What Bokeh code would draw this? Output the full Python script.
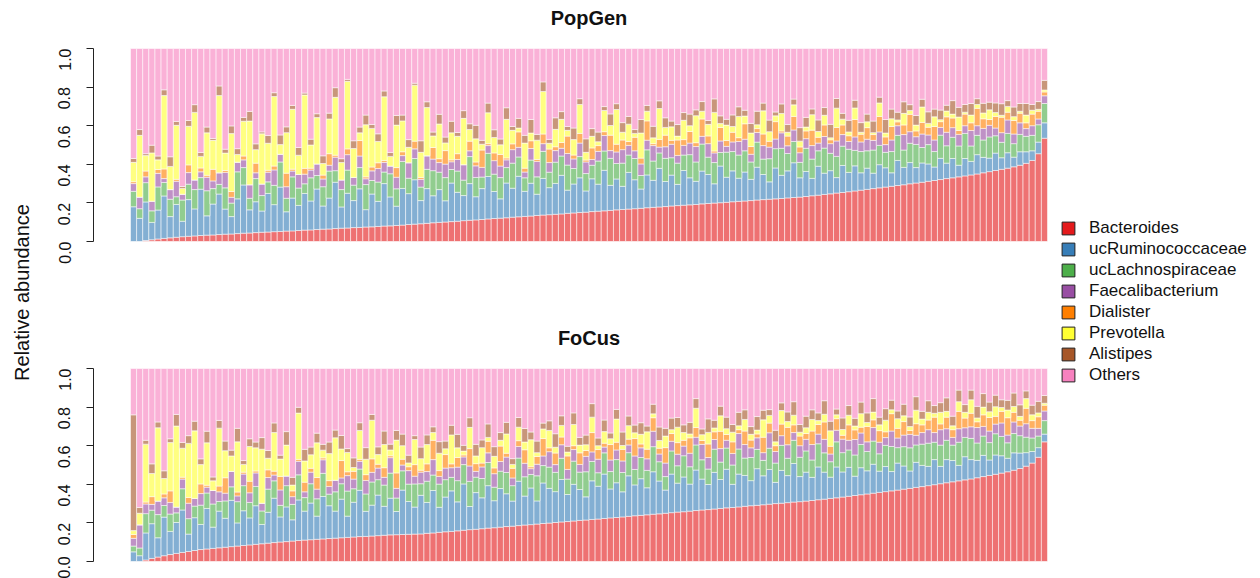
import math
from bokeh.plotting import figure
from bokeh.models import ColumnDataSource, Range1d, FixedTicker, PrintfTickFormatter, Label, Legend, LegendItem
from bokeh.layouts import row, column
from bokeh.embed import file_html
from bokeh.resources import INLINE

taxa = ["Bacteroides", "ucRuminococcaceae", "ucLachnospiraceae", "Faecalibacterium",
        "Dialister", "Prevotella", "Alistipes", "Others"]
colors = ["#E41A1C", "#377EB8", "#4DAF4A", "#984EA3", "#FF7F00", "#FFFF33", "#A65628", "#F781BF"]
y_ticks = [0.0, 0.2, 0.4, 0.6, 0.8, 1.0]

# ---------------- PopGen (percent per sample, sorted by Bacteroides) ----------------
popgen_bacteroides = [
    0, 0, 0.5, 0.9, 1.3, 1.6, 1.9, 2.2, 2.5, 2.7, 2.9, 3.1,
    3.3, 3.4, 3.6, 3.8, 3.9, 4.1, 4.3, 4.4, 4.6, 4.8, 4.9, 5.1, 5.2, 5.4, 5.5, 5.7,
    5.9, 6.0, 6.2, 6.4, 6.5, 6.7, 6.9, 7.0, 7.2, 7.3, 7.5, 7.6, 7.8, 8.0, 8.1, 8.3,
    8.5, 8.8, 9.0, 9.2, 9.4, 9.7, 9.9, 10.1, 10.3, 10.5, 10.8, 11.0, 11.2, 11.4, 11.7, 11.9,
    12.1, 12.3, 12.6, 12.8, 13.0, 13.2, 13.5, 13.7, 13.9, 14.1, 14.3, 14.6, 14.8, 15.0, 15.2, 15.5, 15.7,
    15.9, 16.1, 16.4, 16.6, 16.8, 17.0, 17.2, 17.5, 17.7, 17.9, 18.1, 18.4, 18.6, 18.8, 19.0, 19.2,
    19.5, 19.7, 19.9, 20.1, 20.3, 20.6, 20.8, 21.0, 21.2, 21.5, 21.7, 21.9, 22.1, 22.3, 22.6, 22.8, 23.0,
    23.3, 23.7, 24.0, 24.4, 24.7, 25.1, 25.4, 25.8, 26.2, 26.6, 27.0, 27.4, 27.8, 28.2, 28.6, 29.0,
    29.4, 29.9, 30.3, 30.7, 31.2, 31.6, 32.1, 32.6, 33.0, 33.5, 34.0, 34.5, 35.0, 35.6, 36.2, 36.8, 37.4,
    38.0, 38.7, 39.5, 40.5, 42.0, 45.5, 53.5]
popgen_rumino = [
    18, 12, 20, 9, 15, 22, 11, 17, 8, 19, 14, 24, 10, 16, 21, 13, 9, 18, 25, 12,
    16, 11, 20, 14, 23, 10, 17, 13, 19, 15, 21, 12, 16, 24, 11, 18, 14, 20, 9, 17,
    13, 22, 15, 10, 19, 16, 23, 12, 18, 14, 17, 11, 20, 15, 13, 19, 12, 16, 22, 14,
    10, 18, 15, 21, 13, 17, 11, 19, 14, 16, 20, 12, 15, 18, 11, 17, 14, 21, 13, 16,
    12, 19, 15, 10, 17, 14, 20, 13, 16, 11, 18, 14, 12, 17, 15, 10, 19, 13, 16, 12,
    15, 11, 17, 13, 9, 16, 12, 14, 18, 10, 13, 9, 15, 11, 12, 8, 14, 10, 13, 9,
    11, 8, 12, 10, 7, 13, 9, 11, 8, 10, 9, 7, 11, 8, 10, 6, 9, 7, 10, 8,
    7, 9, 6, 8, 5, 7, 6, 5, 6, 8]
popgen_lachno = [
    8, 5, 10, 6, 12, 7, 9, 4, 11, 8, 10, 6, 13, 8, 5, 11, 7, 14, 9, 6,
    12, 8, 6, 10, 13, 7, 11, 9, 5, 12, 7, 10, 14, 6, 9, 12, 8, 11, 13, 7,
    10, 6, 12, 9, 14, 8, 11, 7, 10, 13, 9, 12, 7, 11, 8, 14, 10, 6, 12, 9,
    11, 8, 13, 10, 7, 12, 9, 14, 8, 11, 10, 13, 8, 11, 9, 7, 12, 10, 14, 8,
    12, 9, 11, 7, 13, 10, 8, 12, 9, 11, 8, 12, 10, 14, 9, 11, 7, 13, 10, 12,
    11, 9, 13, 8, 12, 10, 14, 9, 11, 8, 12, 10, 8, 13, 9, 11, 10, 12, 8, 11,
    9, 12, 10, 8, 11, 13, 9, 10, 12, 8, 10, 8, 12, 9, 11, 10, 13, 8, 10, 9,
    11, 9, 8, 10, 7, 9, 8, 8, 9, 10]
popgen_faecali = [
    4, 6, 3, 5, 7, 2, 5, 8, 3, 6, 5, 3, 7, 4, 6, 8, 3, 5, 4, 7,
    3, 6, 5, 8, 4, 6, 3, 7, 5, 4, 6, 4, 3, 7, 5, 8, 4, 6, 3, 5,
    7, 5, 4, 6, 3, 8, 5, 4, 7, 6, 5, 7, 4, 6, 8, 3, 6, 5, 4, 7,
    6, 4, 7, 5, 3, 6, 8, 4, 5, 6, 4, 6, 5, 7, 6, 3, 5, 8, 4, 6,
    7, 5, 4, 6, 5, 8, 3, 6, 7, 4, 5, 6, 8, 4, 7, 5, 6, 3, 5, 7,
    6, 4, 5, 7, 6, 5, 8, 4, 6, 5, 5, 7, 4, 6, 5, 8, 6, 4, 7, 5,
    6, 5, 7, 4, 6, 5, 8, 6, 4, 7, 5, 6, 4, 7, 5, 6, 4, 8, 5, 6,
    6, 4, 5, 7, 5, 6, 4, 5, 3, 4]
popgen_dialister = [
    1, 0, 3, 0, 2, 5, 0, 1, 0, 4, 0, 2, 1, 6, 0, 1, 3, 0, 2, 0,
    5, 0, 1, 2, 0, 7, 1, 0, 3, 1, 0, 2, 6, 1, 0, 3, 0, 8, 1, 2,
    3, 1, 0, 5, 2, 0, 4, 1, 0, 6, 2, 7, 1, 3, 0, 5, 2, 9, 1, 4,
    6, 1, 3, 8, 2, 4, 1, 5, 7, 2, 3, 9, 2, 5, 1, 6, 3, 2, 8, 4,
    5, 2, 7, 3, 10, 1, 4, 6, 2, 8, 3, 6, 2, 9, 4, 1, 7, 3, 5, 2,
    8, 4, 2, 6, 3, 9, 1, 5, 7, 3, 4, 8, 3, 6, 2, 7, 5, 3, 9, 4,
    6, 3, 8, 4, 7, 2, 5, 9, 3, 6, 4, 7, 3, 8, 5, 2, 6, 4, 9, 5,
    3, 6, 8, 4, 7, 5, 3, 6, 4, 2]
popgen_prevotella = [
    10, 32, 8, 25, 5, 38, 12, 28, 3, 20, 35, 6, 22, 15, 40, 9, 30, 4, 18, 33,
    7, 26, 14, 36, 5, 21, 31, 10, 38, 12, 24, 6, 18, 30, 9, 35, 15, 4, 27, 20,
    11, 33, 5, 22, 16, 8, 29, 13, 25, 6, 18, 4, 14, 9, 24, 6, 12, 3, 16, 8,
    5, 20, 7, 2, 13, 4, 10, 22, 3, 9, 12, 3, 8, 15, 4, 6, 2, 11, 5, 18,
    4, 9, 2, 13, 5, 3, 16, 4, 7, 2, 10, 3, 14, 4, 6, 20, 2, 8, 3, 11,
    4, 7, 2, 12, 5, 3, 9, 2, 6, 3, 2, 8, 3, 5, 1, 10, 3, 2, 6, 1,
    3, 1, 7, 2, 4, 1, 6, 2, 3, 8, 2, 5, 1, 3, 2, 7, 1, 4, 2, 3,
    5, 2, 1, 3, 2, 1, 4, 2, 1, 1]
popgen_alistipes = [
    2, 3, 1, 4, 2, 3, 5, 2, 1, 3, 4, 2, 3, 1, 5, 2, 4, 3, 2, 5,
    3, 1, 4, 2, 5, 3, 2, 4, 1, 3, 2, 4, 3, 5, 2, 1, 4, 3, 5, 2,
    4, 3, 2, 5, 3, 4, 1, 6, 3, 2, 5, 3, 6, 2, 4, 3, 7, 2, 5, 4,
    3, 6, 2, 5, 4, 7, 3, 5, 2, 6, 4, 2, 6, 3, 7, 4, 5, 2, 6, 3,
    5, 4, 2, 7, 3, 6, 4, 5, 3, 6, 4, 6, 3, 5, 2, 7, 4, 3, 6, 5,
    3, 5, 7, 4, 6, 2, 5, 4, 3, 7, 5, 3, 6, 4, 7, 5, 3, 6, 4, 5,
    4, 6, 3, 7, 5, 4, 6, 3, 5, 4, 6, 4, 5, 3, 7, 5, 4, 6, 3, 5,
    4, 5, 6, 3, 5, 4, 6, 3, 4, 5]

# ---------------- FoCus ----------------
focus_bacteroides = [
    0, 0, 0.8, 1.6, 2.3, 3.0, 3.6, 4.2, 4.7, 5.2, 5.7, 6.2,
    6.5, 6.8, 7.1, 7.4, 7.7, 8.0, 8.3, 8.6, 8.9, 9.2, 9.5, 9.8, 10.1, 10.3, 10.6, 10.9,
    11.1, 11.3, 11.5, 11.7, 11.9, 12.1, 12.3, 12.5, 12.7, 12.9, 13.0, 13.2, 13.4, 13.6, 13.8, 13.9,
    14.0, 14.1, 14.2, 14.3,
    14.6, 14.8, 15.1, 15.4, 15.6, 15.9, 16.2, 16.5, 16.7, 17.0, 17.3, 17.5, 17.8, 18.1, 18.3,
    18.6, 18.9, 19.1, 19.4, 19.7, 19.9, 20.2, 20.5, 20.7, 21.0, 21.3, 21.5, 21.8, 22.0,
    22.3, 22.6, 22.8, 23.1, 23.4, 23.7, 23.9, 24.2, 24.5, 24.7, 25.0, 25.3, 25.6, 25.8, 26.1, 26.4,
    26.7, 26.9, 27.2, 27.5, 27.8, 28.0, 28.3, 28.6, 28.9, 29.1, 29.4, 29.7, 30.0, 30.2, 30.5, 30.8, 31.0,
    31.3, 31.6, 32.0, 32.3, 32.7, 33.0, 33.4, 33.8, 34.2, 34.6, 35.0, 35.4, 35.8, 36.2, 36.6, 37.0,
    37.5, 37.9, 38.4, 38.8, 39.3, 39.8, 40.3, 40.8, 41.3, 41.8, 42.3, 42.8, 43.4, 44.0, 44.6, 45.2, 45.8,
    46.5, 47.3, 48.2, 49.4, 51.0, 54.0, 62.0]
focus_rumino = [
    5, 3, 14, 18, 10, 20, 12, 16, 22, 9, 17, 13, 21, 11, 19, 15, 24, 12, 18, 14,
    20, 10, 16, 23, 13, 18, 11, 21, 15, 19, 12, 22, 17, 14, 20, 11, 18, 24, 13, 16,
    21, 15, 19, 12, 23, 17, 14, 20, 16, 22, 13, 18, 21, 15, 24, 12, 19, 16, 22, 14,
    20, 17, 13, 23, 15, 19, 12, 21, 18, 16, 22, 14, 19, 16, 12, 20, 17, 23, 15, 18,
    13, 21, 16, 19, 14, 22, 17, 12, 20, 15, 18, 14, 21, 16, 13, 19, 15, 20, 12, 17,
    16, 13, 19, 15, 18, 11, 17, 14, 20, 13, 15, 12, 17, 14, 11, 16, 13, 15, 10, 14,
    12, 15, 11, 13, 10, 14, 12, 9, 13, 11, 10, 13, 9, 12, 11, 8, 12, 10, 9, 11,
    8, 10, 9, 7, 9, 8, 7, 6, 5, 4]
focus_lachno = [
    3, 4, 10, 7, 12, 6, 9, 5, 11, 8, 6, 10, 8, 12, 5, 9, 7, 11, 13, 8,
    10, 7, 12, 9, 6, 11, 8, 13, 7, 10, 9, 12, 6, 10, 8, 13, 7, 11, 9, 12,
    8, 11, 13, 7, 10, 9, 12, 6, 11, 8, 12, 9, 7, 11, 10, 13, 8, 10, 12, 7,
    9, 11, 8, 12, 10, 7, 13, 9, 11, 10, 11, 8, 12, 9, 13, 10, 7, 11, 9, 12,
    10, 12, 8, 11, 9, 13, 10, 7, 12, 9, 11, 9, 13, 10, 8, 12, 9, 11, 10, 13,
    9, 12, 10, 8, 11, 10, 13, 9, 12, 10, 11, 9, 12, 10, 8, 13, 10, 9, 11, 12,
    10, 12, 9, 11, 13, 8, 10, 12, 9, 11, 12, 9, 11, 10, 8, 12, 10, 11, 9, 10,
    9, 11, 10, 8, 10, 9, 8, 7, 6, 7]
focus_faecali = [
    4, 12, 5, 3, 7, 4, 6, 3, 5, 8, 4, 6, 3, 7, 5, 4, 8, 3, 6, 5,
    7, 4, 6, 3, 8, 5, 4, 7, 3, 6, 5, 7, 4, 6, 3, 8, 5, 4, 7, 5,
    6, 4, 8, 5, 3, 7, 4, 6, 5, 8, 4, 6, 5, 7, 4, 8, 3, 6, 5, 7,
    5, 8, 4, 6, 7, 3, 6, 5, 8, 4, 7, 5, 6, 4, 8, 5, 7, 3, 6, 5,
    6, 4, 7, 5, 6, 8, 4, 7, 5, 6, 5, 7, 4, 8, 6, 5, 7, 4, 6, 8,
    7, 5, 6, 4, 8, 6, 5, 7, 4, 6, 6, 8, 5, 7, 4, 6, 7, 5, 8, 6,
    5, 7, 6, 4, 8, 5, 6, 7, 5, 6, 7, 5, 8, 6, 4, 7, 5, 6, 8, 5,
    6, 5, 7, 4, 6, 5, 7, 5, 4, 5]
focus_dialister = [
    2, 0, 1, 4, 0, 2, 6, 0, 1, 3, 0, 5, 1, 0, 3, 8, 0, 2, 1, 6,
    1, 0, 4, 2, 7, 0, 3, 1, 5, 2, 6, 1, 3, 0, 9, 2, 4, 1, 3, 7,
    2, 5, 1, 8, 3, 2, 6, 1, 4, 10, 3, 7, 2, 5, 1, 9, 4, 2, 6, 3,
    8, 2, 5, 3, 7, 1, 4, 9, 2, 6, 4, 7, 2, 6, 3, 10, 5, 2, 8, 4,
    6, 3, 9, 2, 5, 7, 3, 8, 4, 6, 3, 8, 5, 2, 7, 4, 9, 3, 6, 2,
    7, 4, 2, 8, 5, 3, 6, 9, 4, 5, 3, 7, 5, 9, 4, 6, 2, 8, 5, 3,
    8, 4, 6, 3, 9, 5, 7, 2, 6, 4, 5, 8, 3, 6, 4, 9, 5, 7, 3, 6,
    7, 4, 6, 9, 5, 3, 8, 4, 6, 3]
focus_prevotella = [
    2, 6, 30, 12, 38, 8, 25, 42, 15, 28, 35, 10, 22, 5, 30, 14, 8, 26, 4, 18,
    12, 28, 6, 20, 9, 16, 3, 24, 11, 7, 18, 4, 14, 22, 6, 10, 2, 15, 8, 20,
    5, 12, 3, 17, 7, 2, 13, 6, 10, 4, 9, 3, 15, 5, 2, 11, 4, 8, 2, 6,
    3, 10, 2, 7, 4, 14, 2, 5, 9, 3, 6, 2, 11, 4, 3, 8, 2, 6, 3, 12,
    2, 7, 3, 5, 9, 2, 4, 6, 2, 8, 4, 2, 10, 3, 6, 2, 8, 3, 5, 2,
    6, 3, 2, 9, 4, 2, 7, 3, 5, 2, 3, 6, 2, 4, 8, 2, 3, 5, 2, 7,
    2, 4, 3, 6, 2, 5, 3, 2, 7, 3, 4, 2, 6, 3, 2, 5, 3, 7, 2, 4,
    3, 5, 2, 4, 3, 2, 5, 3, 2, 1]
focus_alistipes = [
    60, 3, 2, 5, 3, 4, 2, 6, 3, 4, 5, 3, 6, 2, 4, 5, 3, 7, 2, 4,
    3, 6, 4, 5, 2, 7, 4, 3, 6, 4, 5, 3, 6, 4, 7, 2, 5, 4, 6, 3,
    4, 7, 3, 5, 6, 4, 2, 6, 5, 3, 6, 4, 5, 7, 3, 5, 6, 4, 7, 5,
    4, 6, 3, 5, 7, 4, 6, 3, 5, 7, 5, 3, 6, 4, 5, 7, 4, 6, 3, 5,
    7, 5, 4, 6, 3, 5, 7, 4, 6, 5, 4, 6, 5, 3, 7, 4, 5, 6, 4, 7,
    5, 4, 7, 5, 3, 6, 4, 5, 7, 4, 6, 5, 4, 7, 5, 3, 6, 5, 4, 6,
    5, 7, 4, 6, 5, 4, 6, 5, 7, 4, 6, 4, 5, 7, 5, 6, 4, 5, 6, 7,
    5, 6, 4, 5, 7, 6, 4, 5, 6, 4]

popgen_series = [popgen_bacteroides, popgen_rumino, popgen_lachno, popgen_faecali,
                 popgen_dialister, popgen_prevotella, popgen_alistipes]
focus_series = [focus_bacteroides, focus_rumino, focus_lachno, focus_faecali,
                focus_dialister, focus_prevotella, focus_alistipes]

# ---------------- layout constants (pixels) ----------------
FONT = "Liberation Sans"
LEFT_W, MAIN_W, LEG_W, TOTAL_H = 45, 1015, 200, 578
BORDER_L, BORDER_R = 48, 10
PANEL_PX = 193                      # pixels for 0..1 on the y axis
TOP_GAP = 48                        # pixels above the 1.0 line (title room)
BAR_LEFT_PAD, BAR_RIGHT_PAD = 37, 3


def make_panel(name, series, height, border_bottom):
    n = len(series[0])
    data = {"x": [i + 0.5 for i in range(n)]}
    for key, vals in zip(taxa[:-1], series):
        data[key] = [v / 100.0 for v in vals]
    data["Others"] = [max(0.0, 1.0 - sum(s[i] for s in series) / 100.0) for i in range(n)]
    src = ColumnDataSource(data)
    frame_w = MAIN_W - BORDER_L - BORDER_R
    px = (frame_w - BAR_LEFT_PAD - BAR_RIGHT_PAD) / n
    xr = Range1d(-BAR_LEFT_PAD / px, n + BAR_RIGHT_PAD / px)
    yr = Range1d(0, 1 + TOP_GAP / PANEL_PX)
    p = figure(width=MAIN_W, height=height, x_range=xr, y_range=yr,
               toolbar_location=None, output_backend="svg", x_axis_location=None,
               min_border_left=BORDER_L, min_border_right=BORDER_R,
               min_border_top=0, min_border_bottom=border_bottom,
               outline_line_color=None, background_fill_color="white")
    p.vbar_stack(taxa, x="x", width=1.0, source=src, fill_color=colors, fill_alpha=0.62,
                 line_color="white", line_width=0.6, line_alpha=0.9)
    p.xgrid.visible = False
    p.ygrid.visible = False
    ax = p.yaxis[0]
    ax.bounds = (0, 1)
    ax.ticker = FixedTicker(ticks=y_ticks)
    ax.formatter = PrintfTickFormatter(format="%.1f")
    ax.major_label_orientation = math.pi / 2
    ax.major_tick_out = 7
    ax.major_tick_in = 0
    ax.minor_tick_line_color = None
    ax.axis_line_color = "#222222"
    ax.major_tick_line_color = "#222222"
    ax.major_label_text_font = FONT
    ax.major_label_text_font_size = "16px"
    ax.major_label_text_color = "#111111"
    ax.major_label_standoff = 22
    p.add_layout(Label(x=n / 2, y=1.0, y_offset=31, text=name, text_align="center",
                       text_baseline="alphabetic", text_font=FONT, text_font_size="20px",
                       text_font_style="bold", text_color="#111111"))
    return p


p1 = make_panel("PopGen", popgen_series, 320, 79)
p2 = make_panel("FoCus", focus_series, TOTAL_H - 320, 17)

# y-axis title spanning both panels (an axis with only a label)
left = figure(width=LEFT_W, height=TOTAL_H, x_range=Range1d(0, 1), y_range=Range1d(0, 1),
              toolbar_location=None, output_backend="svg", x_axis_location=None,
              min_border_left=42, min_border_right=0, min_border_top=6, min_border_bottom=0,
              outline_line_color=None)
left.xgrid.visible = False
left.ygrid.visible = False
lax = left.yaxis[0]
lax.ticker = FixedTicker(ticks=[])
lax.axis_line_color = None
lax.major_tick_line_color = None
lax.minor_tick_line_color = None
lax.major_tick_out = 0
lax.axis_label = "Relative abundance"
lax.axis_label_text_font = FONT
lax.axis_label_text_font_size = "20px"
lax.axis_label_text_font_style = "normal"
lax.axis_label_text_color = "#111111"
lax.axis_label_standoff = 10

# legend (one proxy bar per taxon, placed outside the visible range)
leg = figure(width=LEG_W, height=TOTAL_H, x_range=Range1d(0, 1), y_range=Range1d(0, 1),
             toolbar_location=None, output_backend="svg", x_axis_location=None,
             y_axis_location=None, min_border_left=0, min_border_right=0,
             min_border_top=6, min_border_bottom=0, outline_line_color=None)
leg.xgrid.visible = False
leg.ygrid.visible = False
items = []
for name, col in zip(taxa, colors):
    r = leg.vbar(x=[-10], top=[0], bottom=[0], width=1, fill_color=col,
                 line_color="#222222", line_width=1)
    items.append(LegendItem(label=name, renderers=[r]))
legend = Legend(items=items, location=(0, 193), margin=0, padding=0, spacing=1,
                glyph_width=16, glyph_height=16, label_height=20, label_standoff=13,
                label_text_font=FONT, label_text_font_size="17px", label_text_color="#111111",
                border_line_alpha=0, background_fill_alpha=0)
leg.add_layout(legend)

layout = row(left, column(p1, p2), leg)
open("out.html", "w").write(file_html(layout, INLINE))
